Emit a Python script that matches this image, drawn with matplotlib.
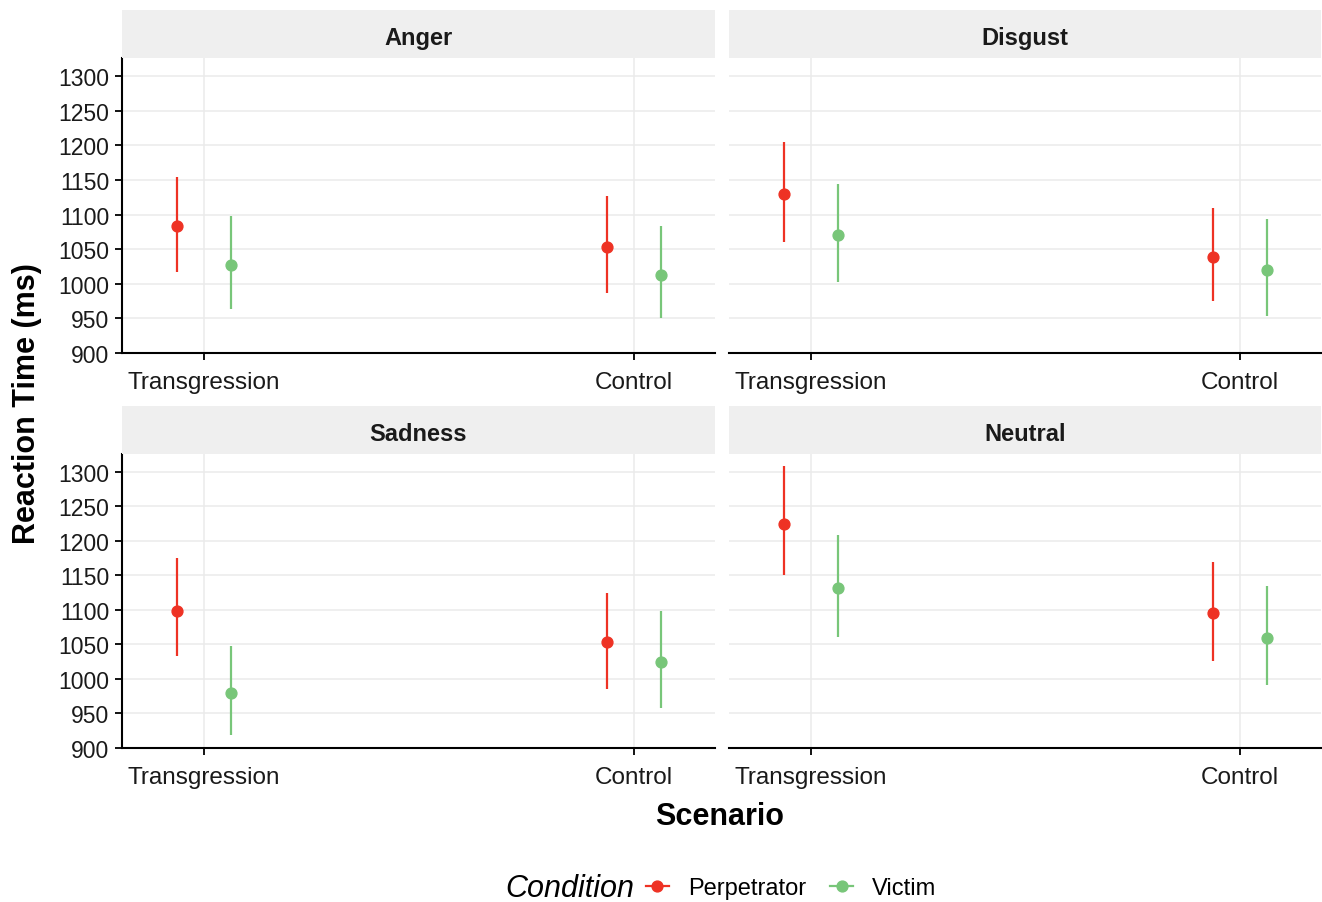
import matplotlib
matplotlib.use("Agg")
import matplotlib.pyplot as plt
from matplotlib.patches import Rectangle
from matplotlib.lines import Line2D
from matplotlib.offsetbox import HPacker

plt.rcParams['font.family'] = ['Liberation Sans', 'DejaVu Sans']

# ---- data ----
emotions = ["Anger", "Disgust", "Sadness", "Neutral"]
scenarios = ["Transgression", "Control"]
conditions = ["Perpetrator", "Victim"]

# mean, lower, upper per emotion; order [Transgression, Control]
perp_mean = {"Anger": [1083, 1053], "Disgust": [1130, 1039], "Sadness": [1099, 1053], "Neutral": [1225, 1095]}
perp_low  = {"Anger": [1017, 987],  "Disgust": [1061, 975],  "Sadness": [1033, 986],  "Neutral": [1150, 1026]}
perp_high = {"Anger": [1154, 1126], "Disgust": [1205, 1109], "Sadness": [1175, 1124], "Neutral": [1308, 1170]}
vict_mean = {"Anger": [1027, 1013], "Disgust": [1071, 1020], "Sadness": [980, 1025],  "Neutral": [1132, 1060]}
vict_low  = {"Anger": [963, 950],   "Disgust": [1003, 954],  "Sadness": [919, 958],   "Neutral": [1061, 991]}
vict_high = {"Anger": [1098, 1084], "Disgust": [1144, 1093], "Sadness": [1048, 1098], "Neutral": [1209, 1135]}

yticks = [900, 950, 1000, 1050, 1100, 1150, 1200, 1250, 1300]

colors = {"Perpetrator": "#EE3224", "Victim": "#78C679"}
series = {
    "Perpetrator": (perp_mean, perp_low, perp_high),
    "Victim": (vict_mean, vict_low, vict_high),
}
dodge = {"Perpetrator": -0.063, "Victim": 0.063}

W, H = 1322, 903
fig = plt.figure(figsize=(W / 100, H / 100), dpi=100)

# panel pixel boxes: (left, top, right, bottom)
panels = {
    "Anger":   (122, 59, 715, 354),
    "Disgust": (729, 59, 1321, 354),
    "Sadness": (122, 455, 715, 749),
    "Neutral": (729, 455, 1321, 749),
}
strip_h = 48

def frac(l, t, r, b):
    return [l / W, 1 - b / H, (r - l) / W, (b - t) / H]

for i, emo in enumerate(emotions):
    l, t, r, b = panels[emo]
    ax = fig.add_axes(frac(l, t, r, b))
    ax.set_xlim(0.809, 2.189)
    ax.set_ylim(900, 1326)
    ax.set_yticks(yticks)
    ax.set_xticks([1, 2])
    ax.set_xticklabels(scenarios, fontsize=17.5, color="#1a1a1a")
    ax.grid(True, color="#EBEBEB", linewidth=1.1)
    ax.set_axisbelow(True)
    for s in ["top", "right"]:
        ax.spines[s].set_visible(False)
    ax.spines["bottom"].set_linewidth(1.5)
    ax.spines["left"].set_linewidth(1.5)
    ax.tick_params(axis="x", length=5, width=1.3, pad=8)
    if i % 2 == 0:
        ax.set_yticklabels([str(v) for v in yticks], fontsize=16.5, color="#1a1a1a")
        ax.tick_params(axis="y", length=5, width=1.3, pad=4)
    else:
        ax.spines["left"].set_visible(False)
        ax.tick_params(axis="y", length=0, labelleft=False)

    for cond in conditions:
        m, lo, hi = series[cond]
        xs = [k + 1 + dodge[cond] for k in range(len(scenarios))]
        for x, a, bb in zip(xs, lo[emo], hi[emo]):
            ax.plot([x, x], [a, bb], color=colors[cond], linewidth=1.6, solid_capstyle="butt", zorder=3)
        ax.plot(xs, m[emo], linestyle="none", marker="o", markersize=7.8,
                color=colors[cond], zorder=4)

    # strip
    sax = fig.add_axes(frac(l, t - strip_h, r, t))
    sax.set_xlim(0, 1)
    sax.set_ylim(0, 1)
    sax.axis("off")
    sax.add_patch(Rectangle((0, 0), 1, 1, facecolor="#EFEFEF", edgecolor="none"))
    sax.text(0.5, 0.42, emo, ha="center", va="center", fontsize=17, fontweight="bold", color="#1a1a1a")

# axis titles
fig.text(27 / W, 1 - 404 / H, "Reaction Time (ms)", rotation=90, ha="center", va="center",
         fontsize=22, fontweight="bold")
fig.text(720 / W, 1 - 817 / H, "Scenario", ha="center", va="center", fontsize=22, fontweight="bold")

# legend
handles = [Line2D([0], [0], color=colors[c], linewidth=1.6, marker="o", markersize=7.8) for c in conditions]
leg = fig.legend(handles, conditions, loc="center", bbox_to_anchor=(721 / W, 1 - 889 / H),
                 ncol=2, frameon=False, fontsize=17, handlelength=1.0, handletextpad=0.8,
                 columnspacing=1.0, title="Condition")
leg.get_title().set_fontsize(22)
leg.get_title().set_fontstyle("italic")
title_box = leg._legend_title_box
entries = leg._legend_handle_box
leg._legend_box._children = [HPacker(pad=0, sep=8, children=[title_box, entries], align="center")]

fig.savefig("out.png", dpi=100)
